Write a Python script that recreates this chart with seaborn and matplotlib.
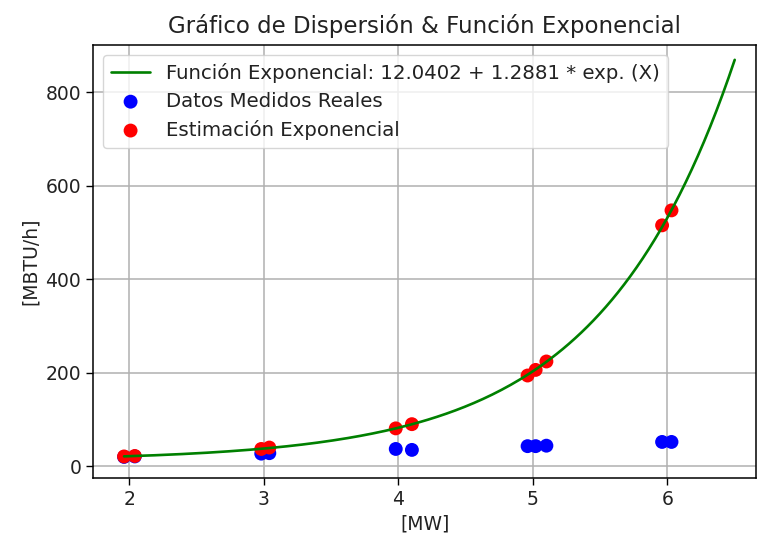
import numpy as np
import pandas as pd
import matplotlib
matplotlib.use("Agg")
import matplotlib.pyplot as plt
import seaborn as sns

# Data
mw = [1.96, 2.04, 2.98, 3.04, 3.98, 4.10, 4.96, 5.02, 5.10, 5.96, 6.03]
measured = [20, 21, 27, 28, 37, 35, 43, 43, 44, 52, 52]
estimated = [21, 22, 37, 40, 81, 90, 194, 206, 224, 515, 547]
a_coef = 12.0402
b_coef = 1.2881

sns.set_style("white")
plt.rcParams['font.family'] = ['DejaVu Sans']

fig = plt.figure(figsize=(7.57, 5.45), dpi=100)
ax = fig.add_axes([0.123, 0.123, 0.876, 0.794])

xs = np.linspace(1.96, 6.5, 200)
curve = pd.DataFrame({"x": xs, "y": a_coef + b_coef * np.exp(xs)})
df = pd.DataFrame({"MW": mw, "measured": measured, "estimated": estimated})

sns.lineplot(data=curve, x="x", y="y", color="green", lw=1.9, ax=ax,
             label="Función Exponencial: 12.0402 + 1.2881 * exp. (X)")
sns.scatterplot(data=df, x="MW", y="measured", color="blue", s=100,
                edgecolor="none", ax=ax, label="Datos Medidos Reales")
sns.scatterplot(data=df, x="MW", y="estimated", color="red", s=100,
                edgecolor="none", ax=ax, label="Estimación Exponencial")

ax.set_xlim(1.73, 6.66)
ax.set_ylim(-25, 900)
ax.set_xticks([2, 3, 4, 5, 6])
ax.set_yticks([0, 200, 400, 600, 800])
ax.grid(True, color="#b0b0b0", lw=1.1)
for s in ax.spines.values():
    s.set_color("black")
    s.set_linewidth(1.1)
ax.tick_params(axis="both", which="both", direction="out", length=5, width=1,
               labelsize=13.5, bottom=True, left=True, color="black",
               labelcolor="#222222")
ax.set_xlabel("[MW]", fontsize=13.5, color="#222222")
ax.set_ylabel("[MBTU/h]", fontsize=13.5, color="#222222")
ax.set_title("Gráfico de Dispersión & Función Exponencial", fontsize=16.5,
             pad=9, color="#222222")
leg = ax.legend(loc="upper left", fontsize=14.2, frameon=True, framealpha=0.8,
                edgecolor="#cccccc", borderaxespad=0.5, labelspacing=0.45)
for t in leg.get_texts():
    t.set_color("#222222")

fig.savefig("out.png", dpi=100)
